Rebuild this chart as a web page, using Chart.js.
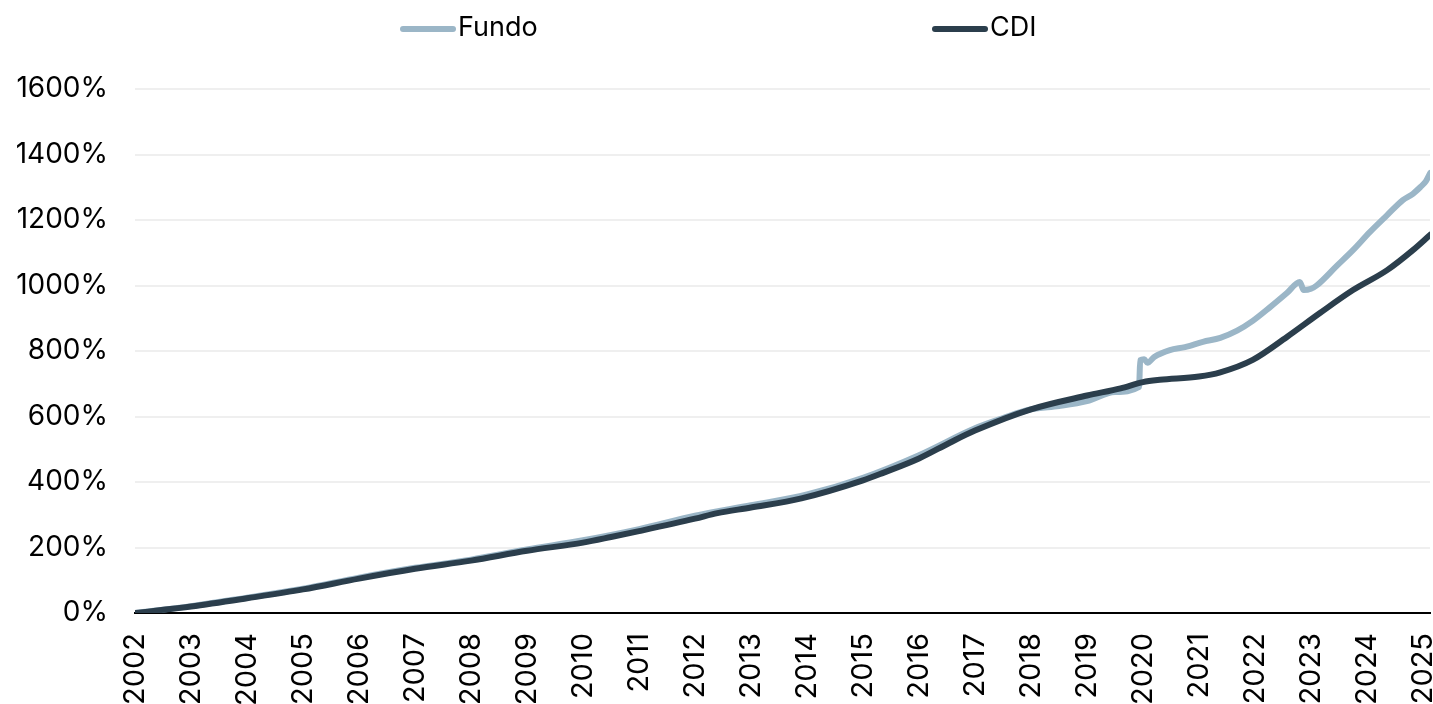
<!DOCTYPE html>
<html>
<head>
<meta charset="utf-8">
<script src="https://cdn.jsdelivr.net/npm/chart.js@4"></script>
<style>
  html, body { margin: 0; padding: 0; background: #fff; }
  #wrap { position: relative; width: 1433px; height: 704px; overflow: hidden; }
  #legend { position: absolute; left: 0; top: 0; width: 1433px; height: 60px; font-family: Inter, "Liberation Sans", sans-serif; font-size: 27px; color: #000; }
  .mk { position: absolute; height: 6px; border-radius: 3px; }
  .lt { position: absolute; line-height: 27px; }
</style>
</head>
<body>
<div id="wrap">
  <canvas id="c" width="1433" height="704"></canvas>
  <div id="legend"></div>
</div>
<script>
// ---- Data ----
const seriesNames = ["Fundo", "CDI"];
const yearTicks = [2002,2003,2004,2005,2006,2007,2008,2009,2010,2011,2012,2013,2014,2015,2016,2017,2018,2019,2020,2021,2022,2023,2024,2025];

const fundoDates = [2002, 2003, 2004, 2005, 2006, 2007, 2008, 2009, 2010, 2011, 2012, 2013, 2014, 2015, 2016, 2017, 2017.5, 2018, 2018.5, 2019, 2019.5, 2019.93, 2019.95, 2020.02, 2020.08, 2020.2, 2020.48, 2020.75, 2021.07, 2021.38, 2021.68, 2021.96, 2022.27, 2022.57, 2022.8, 2022.87, 2023.0, 2023.1, 2023.46, 2023.75, 2024.05, 2024.36, 2024.64, 2024.82, 2024.95, 2025.05, 2025.13];
const fundoValues = [0, 21, 47, 74, 108, 138, 163, 194, 222, 256, 297, 329, 362, 413, 482, 564, 595, 622, 632, 647, 675, 690, 772, 775, 764, 782, 803, 812, 828, 840, 862, 892, 934, 977, 1011, 986, 990, 1000, 1060, 1108, 1163, 1215, 1261, 1280, 1300, 1318, 1344];

const cdiDates = [2002, 2003, 2004, 2005, 2006, 2007, 2008, 2009, 2010, 2010.5, 2011, 2012, 2012.4, 2013, 2013.9, 2015, 2015.36, 2016, 2016.55, 2017, 2018, 2019, 2019.6, 2020, 2020.3, 2021, 2021.38, 2021.96, 2022.57, 2023.16, 2023.75, 2024.36, 2024.82, 2025.13];
const cdiValues = [0, 20, 45, 72, 105, 135, 160, 190, 215, 232, 250, 288, 305, 322, 350, 405, 428, 472, 520, 557, 622, 664, 686, 705, 712, 722, 735, 773, 843, 916, 986, 1047, 1108, 1155];

const colors = { Fundo: "#9bb6c7", CDI: "#2b3e4c" };

function toPoints(dates, values) { return dates.map((d, i) => ({ x: d, y: values[i] })); }

// ---- HTML legend ----
const legend = document.getElementById('legend');
const legendPos = { Fundo: 400, CDI: 932 };
seriesNames.forEach(n => {
  const mk = document.createElement('div');
  mk.className = 'mk';
  mk.style.left = legendPos[n] + 'px';
  mk.style.top = '26px';
  mk.style.width = '56px';
  mk.style.background = colors[n];
  legend.appendChild(mk);
  const t = document.createElement('div');
  t.className = 'lt';
  t.textContent = n;
  t.style.left = (legendPos[n] + 58) + 'px';
  t.style.top = '13px';
  legend.appendChild(t);
});

new Chart(document.getElementById('c'), {
  type: 'line',
  data: {
    datasets: [
      { label: 'Fundo', data: toPoints(fundoDates, fundoValues), borderColor: colors.Fundo, backgroundColor: colors.Fundo, borderWidth: 6, pointRadius: 0, cubicInterpolationMode: 'monotone', borderCapStyle: 'round', borderJoinStyle: 'round', order: 1 },
      { label: 'CDI', data: toPoints(cdiDates, cdiValues), borderColor: colors.CDI, backgroundColor: colors.CDI, borderWidth: 6, pointRadius: 0, cubicInterpolationMode: 'monotone', borderCapStyle: 'round', borderJoinStyle: 'round', order: 0 }
    ]
  },
  options: {
    responsive: false,
    animation: false,
    layout: { padding: { top: 89, right: 3, left: 0, bottom: 0 } },
    plugins: { legend: { display: false }, tooltip: { enabled: false } },
    scales: {
      x: {
        type: 'linear',
        min: 2002,
        max: 2025.125,
        afterBuildTicks: (s) => { s.ticks = yearTicks.map(v => ({ value: v })); },
        afterFit: (s) => { s.height = 91; s.paddingLeft = 0; s.paddingRight = 0; },
        ticks: { minRotation: 90, maxRotation: 90, autoSkip: false, padding: 20, color: '#000', font: { family: 'Inter', size: 29 }, callback: (v) => String(v) },
        grid: { display: false, drawTicks: false },
        border: { display: true, color: '#000', width: 2 }
      },
      y: {
        min: 0,
        max: 1600,
        afterFit: (s) => { s.width = 135; s.paddingTop = 0; s.paddingBottom = 0; },
        ticks: { stepSize: 200, padding: 27, color: '#000', font: { family: 'Inter', size: 28 }, callback: (v) => v + '%' },
        grid: { color: '#efefef', lineWidth: 2, drawTicks: false },
        border: { display: false }
      }
    }
  }
});
</script>
</body>
</html>
